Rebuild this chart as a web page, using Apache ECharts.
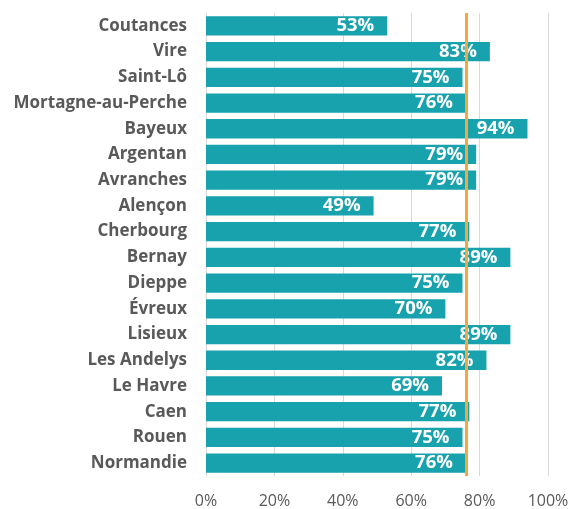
<!DOCTYPE html>
<html><head><meta charset="utf-8">
<script src="https://cdn.jsdelivr.net/npm/echarts@6/dist/echarts.min.js"></script>
<style>html,body{margin:0;padding:0;background:#fff}#c{width:573px;height:509px}</style>
</head><body><div id="c"></div>
<script>
const categories = ["Coutances","Vire","Saint-Lô","Mortagne-au-Perche","Bayeux","Argentan","Avranches","Alençon","Cherbourg","Bernay","Dieppe","Évreux","Lisieux","Les Andelys","Le Havre","Caen","Rouen","Normandie"];
const values = [53,83,75,76,94,79,79,49,77,89,75,70,89,82,69,77,75,76];
const averageValue = 76;
const xTicks = [0,20,40,60,80,100];

const chart = echarts.init(document.getElementById('c'), null, {renderer:'canvas'});
chart.setOption({
  animation:false,
  grid:{left:206,right:25,top:13,bottom:33},
  xAxis:{type:'value',min:0,max:100,interval:20,
    axisLine:{show:false},axisTick:{show:false},
    splitLine:{lineStyle:{color:'#d9d9d9',width:1}},
    axisLabel:{formatter:v=>xTicks.includes(v)?v+'%':'',color:'#595959',fontSize:16,fontFamily:'Open Sans',margin:17}},
  yAxis:{type:'category',data:categories,inverse:true,
    axisLine:{show:true,lineStyle:{color:'#d9d9d9'}},axisTick:{show:false},
    axisLabel:{color:'#595959',fontSize:17,fontWeight:'bold',fontFamily:'Open Sans',margin:19}},
  series:[{type:'bar',data:values,barWidth:'75%',
    itemStyle:{color:'#17A2AD'},
    label:{show:true,position:'insideRight',distance:13,formatter:'{c}%',color:'#fff',fontSize:18.5,fontWeight:'bold',fontFamily:'Open Sans'},
    markLine:{symbol:'none',silent:true,label:{show:false},
      lineStyle:{color:'#F4A73A',width:3,type:'solid'},
      data:[{xAxis:averageValue}]}}]
});
</script></body></html>
